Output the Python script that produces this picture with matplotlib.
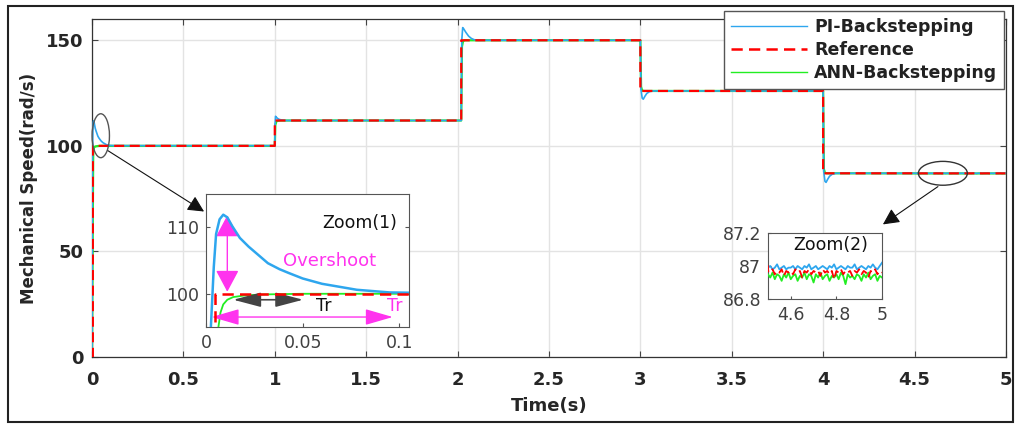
import numpy as np
import matplotlib
matplotlib.use("Agg")
import matplotlib.pyplot as plt
from matplotlib.patches import Ellipse, Rectangle

# ---- data ----
# reference speed profile (steps)
ref_t = [0, 0.0046, 0.0046, 1.0, 1.0, 2.02, 2.02, 3.0, 3.0, 4.0, 4.0, 4.5]
ref_v = [0, 0, 100, 100, 112, 112, 150, 150, 126, 126, 87, 87]

# PI-Backstepping response (overshoot at each step)
pi_t = [0, 0.0025, 0.004, 0.0052, 0.007, 0.0089, 0.011, 0.0135, 0.0175, 0.022,
        0.026, 0.032, 0.038, 0.043, 0.05, 0.06, 0.07, 0.078, 0.095, 0.12,
        1.0, 1.002, 1.004, 1.008, 1.015, 1.025, 1.04, 1.06,
        2.02, 2.023, 2.028, 2.033, 2.045, 2.06, 2.075, 2.09, 2.11,
        3.0, 3.003, 3.01, 3.016, 3.025, 3.035, 3.05, 3.07,
        4.0, 4.003, 4.01, 4.016, 4.025, 4.035, 4.05, 4.07]
pi_v = [0, 95, 104, 109, 111.2, 111.9, 111.5, 110.2, 108.4, 107.1,
        106.1, 104.6, 103.7, 103.1, 102.3, 101.5, 101.0, 100.6, 100.2, 100.1,
        100.1, 111, 114, 113.6, 113, 112.5, 112.2, 112,
        112, 150, 156, 155.5, 153.8, 152, 150.9, 150.3, 150,
        150, 127, 122.6, 122.1, 123.5, 124.8, 125.7, 126,
        126, 88, 83.2, 82.7, 84.2, 85.6, 86.6, 87]

# ANN-Backstepping response (no overshoot)
ann_t = [0, 0.0064, 0.0075, 0.0089, 0.011, 0.014, 0.02, 0.03, 0.05,
         1.0, 1.003, 1.01, 1.03,
         2.02, 2.024, 2.03, 2.04,
         3.0, 3.004, 3.01, 3.02,
         4.0, 4.004, 4.01, 4.02]
ann_v = [0, 95, 97.2, 98.4, 99.1, 99.5, 99.75, 99.9, 100,
         100, 110, 111.8, 112,
         112, 147, 149.6, 150,
         150, 128, 126.2, 126,
         126, 89, 87.2, 87]

# steady-state ripple between 4.5 s and 5 s (Zoom(2))
pi_ripple = [86.99, 87.00, 86.98, 86.99, 87.01, 86.98, 86.99, 87.00, 86.98, 86.99,
             86.99, 87.00, 86.98, 87.00, 86.99, 86.98, 87.00, 86.99, 87.01, 86.98,
             86.99, 87.00, 86.98, 86.99, 87.00, 86.99, 86.98, 87.00, 86.99, 87.01,
             86.98, 86.99, 87.00, 86.99, 86.98, 87.00, 86.99, 86.99, 87.01, 86.98,
             86.99, 87.00, 86.99, 86.98, 87.00, 86.99, 87.01, 86.99, 86.98, 87.00, 87.02]
ref_ripple = [86.97, 86.96, 86.98, 86.95, 86.97, 86.96, 86.98, 86.94, 86.97, 86.96,
              86.97, 86.95, 86.98, 86.96, 86.97, 86.93, 86.97, 86.96, 86.98, 86.95,
              86.97, 86.96, 86.97, 86.94, 86.98, 86.96, 86.97, 86.95, 86.97, 86.92,
              86.97, 86.96, 86.98, 86.95, 86.97, 86.96, 86.97, 86.94, 86.97, 86.96,
              86.98, 86.95, 86.97, 86.96, 86.93, 86.97, 86.96, 86.98, 86.95, 86.97, 86.96]
ann_ripple = [86.95, 86.93, 86.96, 86.92, 86.95, 86.94, 86.91, 86.95, 86.93, 86.96,
              86.92, 86.94, 86.95, 86.91, 86.94, 86.93, 86.96, 86.92, 86.95, 86.94,
              86.90, 86.95, 86.93, 86.96, 86.92, 86.94, 86.95, 86.91, 86.94, 86.93,
              86.95, 86.92, 86.96, 86.94, 86.89, 86.95, 86.93, 86.94, 86.92, 86.95,
              86.94, 86.91, 86.95, 86.93, 86.96, 86.92, 86.94, 86.95, 86.91, 86.94, 86.93]
ripple_t = list(np.linspace(4.5, 5.0, len(pi_ripple)))

pi_t = pi_t + ripple_t
pi_v = pi_v + pi_ripple
ann_t = ann_t + ripple_t
ann_v = ann_v + ann_ripple
ref_t = ref_t + ripple_t
ref_v = ref_v + ref_ripple

xticks = [0, 0.5, 1, 1.5, 2, 2.5, 3, 3.5, 4, 4.5, 5]
xtick_labels = ["0", "0.5", "1", "1.5", "2", "2.5", "3", "3.5", "4", "4.5", "5"]
yticks = [0, 50, 100, 150]

# ---- styles ----
c_pi = "#2ea6ee"
c_ref = "#ff0000"
c_ann = "#22ee22"
c_mag = "#ff33ee"
dash = (0, (4.5, 2.5))

fig = plt.figure(figsize=(10.2, 4.26), dpi=100)
fig.add_artist(Rectangle((0.008, 0.009), 0.985, 0.977, transform=fig.transFigure,
                         fill=False, edgecolor="#222222", linewidth=1.5))

ax = fig.add_axes([0.0902, 0.162, 0.896, 0.793])
ax.plot(ann_t, ann_v, color=c_ann, lw=1.6, zorder=3, label="ANN-Backstepping")
ax.plot(pi_t, pi_v, color=c_pi, lw=1.2, zorder=4, label="PI-Backstepping")
ax.plot(ref_t, ref_v, color=c_ref, lw=1.6, ls=dash, zorder=5, label="Reference")
ax.set_xlim(0, 5)
ax.set_ylim(0, 160)
ax.set_xticks(xticks)
ax.set_xticklabels(xtick_labels)
ax.set_yticks(yticks)
ax.grid(True, color="#e3e3e3", lw=1.0)
ax.set_axisbelow(True)
ax.tick_params(direction="in", top=True, right=True, length=4, color="#444444",
               labelsize=13, labelcolor="#262626")
ax.tick_params(axis="x", pad=10)
ax.tick_params(axis="y", pad=6)
for lab in ax.get_xticklabels() + ax.get_yticklabels():
    lab.set_fontweight("bold")
for s in ax.spines.values():
    s.set_color("#333333")
    s.set_linewidth(0.9)
ax.set_xlabel("Time(s)", fontsize=13, fontweight="bold", color="#262626")
ax.set_ylabel("Mechanical Speed(rad/s)", fontsize=12, fontweight="bold", color="#262626")
ax.xaxis.set_label_coords(0.5, -0.118)
ax.yaxis.set_label_coords(-0.059, 0.5)

# ellipses marking the zoomed regions
ax.add_patch(Ellipse((0.048, 104.8), 0.095, 20.8, fill=False, ec="#555555", lw=1.0,
                     clip_on=False, zorder=6))
ax.add_patch(Ellipse((4.655, 87.0), 0.268, 11.3, fill=False, ec="#333333", lw=1.0,
                     clip_on=False, zorder=6))
arrow = dict(arrowstyle="-|>,head_length=0.9,head_width=0.45", color="#111111",
             lw=0.8, shrinkA=0, shrinkB=0, mutation_scale=11)
ax.annotate("", xy=(0.613, 68.9), xytext=(0.0875, 97.7), arrowprops=arrow, zorder=6)
ax.annotate("", xy=(4.327, 62.8), xytext=(4.628, 80.7), arrowprops=arrow, zorder=6)

# legend
handles, labels = ax.get_legend_handles_labels()
order = [1, 2, 0]
leg = fig.legend([handles[i] for i in order], [labels[i] for i in order],
                 loc="upper right", bbox_to_anchor=(1004 / 1020, 1 - 11 / 426),
                 borderaxespad=0, prop=dict(size=12.5, weight="bold"),
                 handlelength=4.4, labelspacing=0.3, borderpad=0.4,
                 handletextpad=0.4, fancybox=False, framealpha=1,
                 edgecolor="#555555")
leg.get_frame().set_linewidth(1.0)
for t in leg.get_texts():
    t.set_color("#222222")
for ln in leg.get_lines():
    ln.set_linewidth(1.0)
leg.get_lines()[1].set_linewidth(1.8)

# ---- Zoom(1) inset ----
ax1 = fig.add_axes([0.202, 0.2324, 0.199, 0.312])
ax1.plot(ann_t, ann_v, color=c_ann, lw=1.3, zorder=3)
ax1.plot(pi_t, pi_v, color=c_pi, lw=1.8, zorder=4)
ax1.plot(ref_t, ref_v, color=c_ref, lw=1.8, ls=dash, zorder=5)
ax1.set_xlim(0, 0.105)
ax1.set_ylim(95, 115)
ax1.set_xticks([0, 0.05, 0.1])
ax1.set_xticklabels(["0", "0.05", "0.1"])
ax1.set_yticks([100, 110])
ax1.tick_params(direction="in", right=True, length=3, color="#555555",
                labelsize=12.5, labelcolor="#404040", pad=5)
for s in ax1.spines.values():
    s.set_color("#555555")
ax1.text(0.0603, 110.6, "Zoom(1)", fontsize=12.5, color="#111111", va="center")
ax1.text(0.0397, 105.0, "Overshoot", fontsize=13, color=c_mag, va="center")
ax1.text(0.057, 98.2, "Tr", fontsize=12.5, color="#111111", va="center")
ax1.text(0.1015, 98.2, "Tr", fontsize=12.5, color=c_mag, va="center", ha="right")
ax1.annotate("", xy=(0.011, 100.3), xytext=(0.011, 111.8),
             arrowprops=dict(arrowstyle="<|-|>,head_length=1.5,head_width=0.8",
                             color=c_mag, lw=1.0, shrinkA=0, shrinkB=0,
                             mutation_scale=9))
ax1.annotate("", xy=(0.0502, 99.1), xytext=(0.0141, 99.1),
             arrowprops=dict(arrowstyle="<|-|>,head_length=1.9,head_width=0.5",
                             color="#444444", lw=1.2, shrinkA=0, shrinkB=0,
                             mutation_scale=9))
ax1.annotate("", xy=(0.0966, 96.5), xytext=(0.0029, 96.5),
             arrowprops=dict(arrowstyle="<|-|>,head_length=1.9,head_width=0.55",
                             color=c_mag, lw=1.0, shrinkA=0, shrinkB=0,
                             mutation_scale=9))

# ---- Zoom(2) inset ----
ax2 = fig.add_axes([0.7529, 0.2981, 0.1118, 0.155])
ax2.plot(ann_t, ann_v, color=c_ann, lw=1.3, zorder=3)
ax2.plot(pi_t, pi_v, color=c_pi, lw=1.3, zorder=2)
ax2.plot(ref_t, ref_v, color=c_ref, lw=1.3, ls=dash, zorder=4)
ax2.set_xlim(4.5, 5.0)
ax2.set_ylim(86.8, 87.2)
ax2.set_xticks([4.6, 4.8, 5.0])
ax2.set_xticklabels(["4.6", "4.8", "5"])
ax2.set_yticks([86.8, 87.0, 87.2])
ax2.set_yticklabels(["86.8", "87", "87.2"])
ax2.tick_params(direction="in", length=2, color="#555555", labelsize=12.5,
                labelcolor="#404040", pad=5)
for s in ax2.spines.values():
    s.set_color("#555555")
ax2.text(0.55, 0.82, "Zoom(2)", transform=ax2.transAxes, fontsize=12.5,
         color="#111111", ha="center", va="center")

fig.savefig("out.png", dpi=100)
